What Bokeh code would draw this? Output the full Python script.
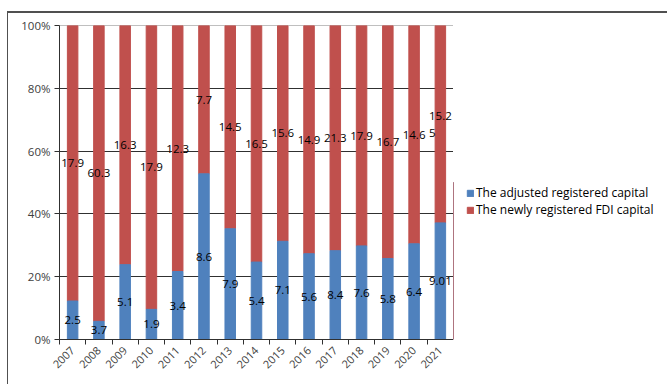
import math
from bokeh.plotting import figure
from bokeh.layouts import row
from bokeh.models import ColumnDataSource, FixedTicker, LabelSet, Legend, LegendItem, NumeralTickFormatter, Range1d
from bokeh.core.properties import value
from bokeh.embed import file_html
from bokeh.resources import INLINE

years = ["2007", "2008", "2009", "2010", "2011", "2012", "2013", "2014",
         "2015", "2016", "2017", "2018", "2019", "2020", "2021"]
adjusted = [2.5, 3.7, 5.1, 1.9, 3.4, 8.6, 7.9, 5.4, 7.1, 5.6, 8.4, 7.6, 5.8, 6.4, 9.01]
newly = [17.9, 60.3, 16.3, 17.9, 12.3, 7.7, 14.5, 16.5, 15.6, 14.9, 21.3, 17.9, 16.7, 14.6, 15.25]
series_names = ["The adjusted registered capital", "The newly registered FDI capital"]

BLUE = "#4F81BD"
RED = "#C0504D"
FONT = "Open Sans"

n = len(years)
xs = [i + 0.5 for i in range(n)]
tot = [a + b for a, b in zip(adjusted, newly)]
pa = [a / t for a, t in zip(adjusted, tot)]
pn = [b / t for b, t in zip(newly, tot)]

def fmt(v):
    s = f"{v:g}"
    if len(s) > 4:
        s = s[:4] + "\n" + s[4:]
    return s

src = ColumnDataSource(dict(
    x=xs, pa=pa, top=[1.0] * n,
    ya=[p / 2 for p in pa], yn=[p + q / 2 for p, q in zip(pa, pn)],
    la=[fmt(v) for v in adjusted], ln=[fmt(v) for v in newly],
))

fig = figure(width=446, height=373, output_backend="svg", toolbar_location=None,
             x_range=Range1d(0, n), y_range=Range1d(0, 1),
             min_border_left=51, min_border_right=1, min_border_top=12, min_border_bottom=47)
fig.styles = {"border-top": "2px solid #505050", "border-left": "1px solid #505050",
              "box-sizing": "border-box"}

rb = fig.vbar(x="x", bottom="pa", top="top", width=0.4, color=RED, source=src)
bb = fig.vbar(x="x", bottom=0, top="pa", width=0.4, color=BLUE, source=src)

for col, ycol in (("la", "ya"), ("ln", "yn")):
    fig.add_layout(LabelSet(x="x", y=ycol, text=col, source=src, text_align="center",
                            text_baseline="middle", text_font=value(FONT), text_font_size="11.5px",
                            text_color="#000000", text_line_height=1.1))

fig.outline_line_color = "#BFBFBF"
fig.outline_line_width = 1
fig.xgrid.visible = False
fig.ygrid.ticker = FixedTicker(ticks=[0.2, 0.4, 0.6, 0.8, 1.0])
fig.ygrid.grid_line_color = "#303030"
fig.ygrid.grid_line_width = 1

fig.yaxis.ticker = FixedTicker(ticks=[0, 0.2, 0.4, 0.6, 0.8, 1.0])
fig.yaxis.formatter = NumeralTickFormatter(format="0%")
fig.yaxis.major_tick_out = 5
fig.yaxis.major_tick_in = 0
fig.yaxis.minor_tick_line_color = None
fig.yaxis.axis_line_color = "#303030"
fig.yaxis.major_tick_line_color = "#303030"
fig.yaxis.major_label_text_font = FONT
fig.yaxis.major_label_text_font_size = "11.5px"
fig.yaxis.major_label_text_color = "#404040"
fig.yaxis.major_label_standoff = 4

fig.xaxis.ticker = FixedTicker(ticks=xs, minor_ticks=list(range(n + 1)))
fig.xaxis.major_label_overrides = {x: y for x, y in zip(xs, years)}
fig.xaxis.major_tick_out = 0
fig.xaxis.major_tick_in = 0
fig.xaxis.minor_tick_out = 5
fig.xaxis.minor_tick_in = 0
fig.xaxis.minor_tick_line_color = "#303030"
fig.xaxis.axis_line_color = "#303030"
fig.xaxis.major_label_orientation = math.pi / 4
fig.xaxis.major_label_text_font = FONT
fig.xaxis.major_label_text_font_size = "11px"
fig.xaxis.major_label_text_color = "#404040"
fig.xaxis.major_label_standoff = 4

# legend panel
leg = figure(width=214, height=373, output_backend="svg", toolbar_location=None,
             x_range=Range1d(0, 1), y_range=Range1d(0, 1),
             min_border_left=0, min_border_right=0, min_border_top=0, min_border_bottom=0)
leg.styles = {"border-top": "2px solid #505050", "box-sizing": "border-box"}
leg.axis.visible = False
leg.grid.visible = False
leg.outline_line_color = None
d1 = leg.vbar(x=[-5], top=[0.5], width=0.4, color=BLUE)
d2 = leg.vbar(x=[-5], top=[0.5], width=0.4, color=RED)
legend = Legend(items=[LegendItem(label=series_names[0], renderers=[d1]),
                       LegendItem(label=series_names[1], renderers=[d2])],
                location=(13, 121), padding=0, margin=0, spacing=-4,
                glyph_width=8, glyph_height=8, label_height=12, label_standoff=2,
                label_text_font=FONT, label_text_font_size="12px", label_text_color="#000000",
                border_line_color=None, background_fill_alpha=0)
leg.add_layout(legend)

p = row(fig, leg, margin=(11, 0, 0, 7), spacing=0)

open("out.html", "w").write(file_html(p, INLINE))
